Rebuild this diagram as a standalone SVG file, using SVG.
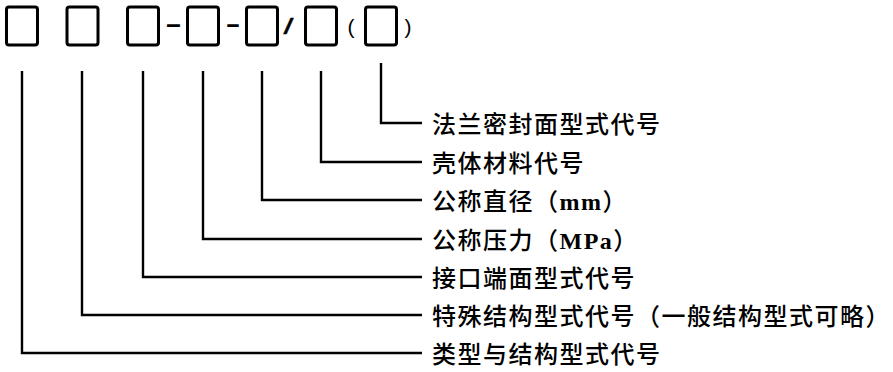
<svg xmlns="http://www.w3.org/2000/svg" width="893" height="372" viewBox="0 0 893 372">
<style>
.box{fill:none;stroke:#000;stroke-width:3}
.conn{fill:none;stroke:#000;stroke-width:2.4;stroke-linejoin:miter}
.lbl{font-family:"Noto Sans CJK SC","Noto Sans",sans-serif;font-size:24px;font-weight:500;letter-spacing:1.5px;fill:#000}
.lat{font-family:"Liberation Serif",serif;font-weight:bold}
.sym{font-family:"Liberation Sans",sans-serif;fill:#000;text-anchor:middle}
</style>
<rect width="893" height="372" fill="#fff"/>
<g id="code">
<g id="box1"><rect class="box" x="6.5" y="7" width="31" height="38" rx="2.5"/></g>
<g id="box2"><rect class="box" x="67" y="7" width="31" height="38" rx="2.5"/></g>
<g id="box3"><rect class="box" x="127.5" y="7" width="31" height="38" rx="2.5"/></g>
<text class="sym" x="173.5" y="31.5" font-size="24" font-weight="bold" textLength="17" lengthAdjust="spacingAndGlyphs">-</text>
<g id="box4"><rect class="box" x="187.5" y="7" width="31" height="38" rx="2.5"/></g>
<text class="sym" x="233" y="31.5" font-size="24" font-weight="bold" textLength="15" lengthAdjust="spacingAndGlyphs">-</text>
<g id="box5"><rect class="box" x="246.5" y="7" width="31" height="38" rx="2.5"/></g>
<text class="sym" x="288.5" y="33.5" font-size="22" textLength="10" lengthAdjust="spacingAndGlyphs" stroke="#000" stroke-width="0.4">/</text>
<g id="box6"><rect class="box" x="305.5" y="7" width="31" height="38" rx="2.5"/></g>
<text class="sym" x="351" y="34" font-size="21">(</text>
<g id="box7"><rect class="box" x="365.5" y="7" width="31" height="38" rx="2.5"/></g>
<text class="sym" x="408" y="34" font-size="21">)</text>
</g>
<g id="connectors">
<polyline class="conn" points="381,63 381,123 422,123"/>
<polyline class="conn" points="321,71 321,162 422,162"/>
<polyline class="conn" points="262,71 262,200 422,200"/>
<polyline class="conn" points="203,71 203,239 422,239"/>
<polyline class="conn" points="143,71 143,277 422,277"/>
<polyline class="conn" points="82,71 82,315 422,315"/>
<polyline class="conn" points="22,71 22,353 422,353"/>
</g>
<g id="label7"><text class="lbl" x="432" y="133">法兰密封面型式代号</text></g>
<g id="label6"><text class="lbl" x="432" y="172">壳体材料代号</text></g>
<g id="label5"><text class="lbl" x="432" y="210">公称直径（<tspan class="lat">mm</tspan>）</text></g>
<g id="label4"><text class="lbl" x="432" y="249">公称压力（<tspan class="lat">MPa</tspan>）</text></g>
<g id="label3"><text class="lbl" x="432" y="287">接口端面型式代号</text></g>
<g id="label2"><text class="lbl" x="432" y="325">特殊结构型式代号（一般结构型式可略）</text></g>
<g id="label1"><text class="lbl" x="432" y="363">类型与结构型式代号</text></g>
</svg>
